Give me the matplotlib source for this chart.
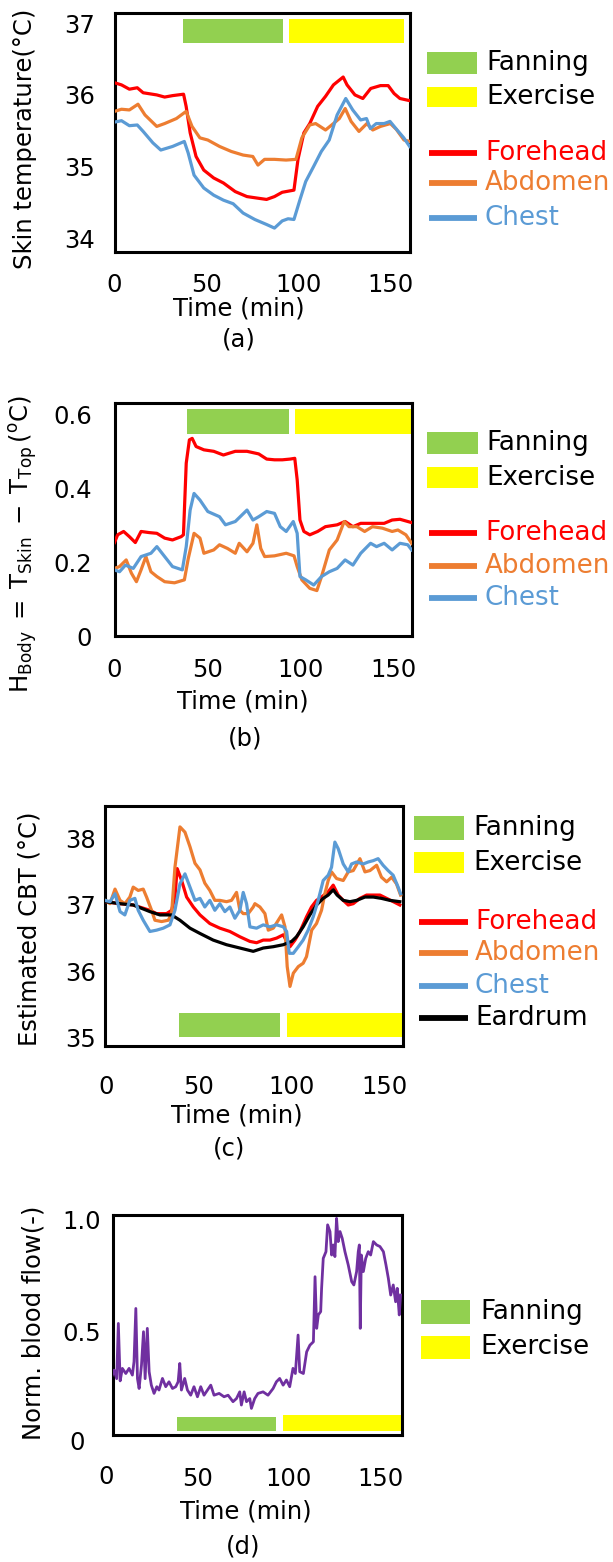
import matplotlib
matplotlib.use("Agg")
import matplotlib.pyplot as plt
from matplotlib.patches import Rectangle
from matplotlib.lines import Line2D
from matplotlib.transforms import blended_transform_factory

plt.rcParams['font.family'] = ['DejaVu Sans']

W, H = 613, 1562

RED = '#FF0000'
ORANGE = '#ED7D31'
BLUE = '#5B9BD5'
BLACK = '#000000'
GREEN = '#92D050'
YELLOW = '#FFFF00'
PURPLE = '#7030A0'

# ---------------- (a) skin temperature ----------------
a_fore_t = [0, 3.8, 8.1, 12.4, 15.6, 23.0, 27.3, 31.6, 37.6, 39.0, 41.2, 44.4, 48.6, 54.0, 59.3,
            65.7, 72.1, 77.4, 82.8, 87.1, 91.3, 97.7, 99.9, 103.1, 106.3, 110.6, 114.9, 119.2,
            124.5, 126.6, 130.9, 135.2, 139.5, 144.8, 149.0, 152.2, 155.4, 160.7]
a_fore = [36.17, 36.14, 36.08, 36.10, 36.03, 36.00, 35.97, 35.99, 36.01, 35.84, 35.47, 35.14,
          34.95, 34.84, 34.77, 34.65, 34.58, 34.56, 34.54, 34.58, 34.64, 34.67, 35.10, 35.47,
          35.60, 35.84, 35.98, 36.14, 36.25, 36.14, 36.00, 35.95, 36.09, 36.13, 36.13, 36.02,
          35.95, 35.92]
a_abd_t = [0, 3.8, 8.1, 12.8, 16.6, 23.0, 27.3, 33.7, 39.0, 42.2, 46.5, 50.8, 57.2, 63.6, 70.0,
           75.3, 78.1, 81.7, 87.1, 93.4, 98.8, 102.0, 106.3, 109.5, 114.9, 119.2, 122.4, 125.6,
           128.8, 133.1, 137.4, 140.6, 144.8, 150.2, 153.4, 157.6, 160.7]
a_abd = [35.77, 35.80, 35.79, 35.87, 35.72, 35.56, 35.60, 35.67, 35.77, 35.56, 35.40, 35.37,
         35.28, 35.21, 35.16, 35.14, 35.02, 35.10, 35.10, 35.09, 35.10, 35.40, 35.58, 35.60,
         35.51, 35.60, 35.67, 35.81, 35.63, 35.49, 35.60, 35.51, 35.56, 35.60, 35.52, 35.37, 35.35]
a_chest_t = [0, 3.8, 8.1, 12.4, 15.6, 20.9, 25.2, 31.6, 38.0, 40.1, 43.3, 48.6, 54.0, 59.3, 64.6,
             70.0, 76.4, 82.8, 87.1, 91.3, 94.5, 97.7, 100.9, 104.1, 108.4, 112.6, 116.9, 121.2,
             125.9, 129.7, 134.0, 137.2, 139.3, 142.5, 146.8, 150.0, 153.2, 157.5, 160.7]
a_chest = [35.62, 35.64, 35.57, 35.58, 35.49, 35.33, 35.23, 35.28, 35.35, 35.19, 34.88, 34.70,
           34.60, 34.53, 34.48, 34.35, 34.26, 34.19, 34.14, 34.24, 34.27, 34.26, 34.53, 34.79,
           35.00, 35.21, 35.37, 35.72, 35.95, 35.79, 35.65, 35.67, 35.53, 35.60, 35.60, 35.63,
           35.53, 35.40, 35.28]

# ---------------- (b) heat flux index ----------------
b_fore_t = [0, 1.7, 4.9, 8.0, 11.2, 14.3, 18.6, 22.8, 27.0, 31.2, 35.9, 37.1, 38.6, 40.3, 41.8,
            43.9, 48.1, 53.4, 58.6, 65.0, 71.3, 77.6, 81.9, 86.1, 90.3, 94.5, 97.0, 98.3, 99.8,
            101.9, 105.1, 109.3, 113.5, 119.8, 124.1, 128.3, 132.5, 138.8, 145.1, 149.4, 153.6, 159.9]
b_fore = [0.253, 0.274, 0.283, 0.269, 0.253, 0.283, 0.280, 0.278, 0.265, 0.260, 0.269, 0.274,
          0.468, 0.531, 0.535, 0.513, 0.504, 0.500, 0.490, 0.500, 0.500, 0.493, 0.479, 0.477,
          0.477, 0.479, 0.481, 0.423, 0.314, 0.283, 0.274, 0.283, 0.296, 0.301, 0.310, 0.296,
          0.305, 0.305, 0.305, 0.314, 0.316, 0.307]
b_abd_t = [0, 2.7, 6.3, 9.1, 11.8, 14.3, 16.9, 19.6, 22.8, 27.0, 32.3, 37.6, 39.7, 42.8, 46.0,
           48.1, 53.4, 56.5, 60.8, 65.0, 67.1, 71.3, 74.5, 76.6, 78.7, 80.8, 86.1, 92.4, 96.6,
           98.3, 100.8, 105.1, 108.9, 111.4, 115.6, 119.8, 123.6, 126.2, 130.4, 134.6, 138.8,
           144.1, 149.4, 152.5, 156.8, 159.9]
b_abd = [0.183, 0.188, 0.206, 0.170, 0.147, 0.179, 0.215, 0.174, 0.161, 0.147, 0.144, 0.152,
         0.210, 0.278, 0.265, 0.224, 0.233, 0.247, 0.237, 0.224, 0.251, 0.228, 0.251, 0.301,
         0.237, 0.215, 0.217, 0.224, 0.217, 0.188, 0.152, 0.129, 0.123, 0.161, 0.233, 0.260,
         0.310, 0.296, 0.296, 0.283, 0.296, 0.292, 0.283, 0.287, 0.274, 0.251]
b_chest_t = [0, 2.7, 5.9, 10.1, 14.3, 19.6, 22.8, 27.0, 31.2, 36.5, 38.6, 40.7, 42.8, 46.0, 50.2,
             56.5, 59.7, 65.0, 71.3, 74.5, 77.6, 81.9, 86.1, 89.2, 92.4, 96.2, 98.3, 99.8, 102.9,
             107.2, 111.4, 115.6, 119.8, 124.1, 128.3, 132.5, 137.8, 141.0, 145.1, 149.4, 153.6,
             157.8, 159.9]
b_chest = [0.179, 0.174, 0.192, 0.183, 0.215, 0.224, 0.242, 0.215, 0.188, 0.179, 0.242, 0.341,
           0.386, 0.368, 0.337, 0.323, 0.301, 0.310, 0.341, 0.314, 0.323, 0.337, 0.332, 0.296,
           0.283, 0.310, 0.278, 0.161, 0.152, 0.138, 0.161, 0.174, 0.183, 0.206, 0.192, 0.224,
           0.251, 0.242, 0.251, 0.233, 0.251, 0.247, 0.233]

# ---------------- (c) estimated CBT ----------------
c_fore_t = [-0.4, 7.7, 14.8, 23.8, 27.4, 32.8, 35.5, 37.3, 38.5, 40.9, 43.6, 47.2, 50.8, 56.1,
            61.5, 66.9, 72.3, 77.7, 81.3, 84.9, 88.5, 92.1, 95.7, 97.5, 99.3, 102.0, 104.7,
            108.2, 110.9, 113.6, 116.3, 119.9, 122.6, 125.3, 128.0, 130.7, 133.4, 137.0, 140.6,
            144.2, 147.8, 151.4, 155.0, 158.5]
c_fore = [37.05, 37.02, 37.00, 36.92, 36.87, 36.87, 36.92, 37.12, 37.55, 37.37, 37.12, 36.97,
          36.85, 36.72, 36.65, 36.60, 36.52, 36.45, 36.43, 36.47, 36.47, 36.50, 36.55, 36.45,
          36.37, 36.47, 36.60, 36.82, 36.97, 37.07, 37.12, 37.20, 37.30, 37.15, 37.07, 37.00,
          37.02, 37.10, 37.15, 37.15, 37.15, 37.10, 37.05, 37.00]
c_abd_t = [-0.4, 2.3, 5.0, 7.7, 10.3, 13.0, 14.8, 17.5, 20.2, 22.0, 24.7, 26.5, 30.1, 33.7, 35.5,
           37.3, 40.0, 42.7, 45.4, 48.1, 50.8, 53.4, 56.1, 58.8, 61.5, 65.1, 67.8, 70.5, 72.3,
           74.1, 76.8, 79.5, 80.4, 83.1, 85.8, 87.6, 90.3, 93.0, 94.8, 96.6, 97.8, 99.3, 101.1,
           103.8, 106.4, 108.2, 111.0, 113.6, 116.3, 118.1, 119.9, 121.7, 124.4, 128.0, 130.7,
           133.4, 137.0, 139.7, 142.4, 146.0, 148.6, 151.4, 154.1, 156.7, 158.9]
c_abd = [37.07, 37.02, 37.24, 37.07, 37.02, 37.12, 37.27, 37.22, 37.24, 37.12, 36.92, 36.77,
         36.75, 36.77, 36.87, 37.57, 38.18, 38.10, 37.88, 37.63, 37.53, 37.33, 37.22, 37.07,
         37.07, 37.05, 37.07, 37.19, 36.92, 36.87, 36.87, 36.97, 37.02, 36.97, 36.87, 36.62,
         36.65, 36.77, 36.85, 36.67, 36.07, 35.77, 35.97, 36.07, 36.12, 36.22, 36.62, 36.72,
         36.92, 37.17, 37.37, 37.50, 37.40, 37.37, 37.50, 37.52, 37.70, 37.50, 37.52, 37.60,
         37.42, 37.35, 37.42, 37.32, 37.15]
c_chest_t = [-0.4, 2.3, 5.0, 7.7, 10.3, 13.0, 15.7, 17.5, 20.2, 23.8, 27.4, 31.0, 34.6, 37.3,
             40.0, 42.7, 45.4, 48.1, 50.8, 53.4, 56.1, 58.8, 61.5, 64.2, 66.9, 69.6, 72.3, 74.1,
             75.9, 77.7, 81.3, 84.9, 88.5, 92.1, 95.7, 97.5, 98.9, 101.1, 103.8, 106.4, 109.1,
             111.8, 114.5, 117.2, 119.9, 121.7, 123.5, 125.3, 128.0, 130.7, 132.5, 135.2, 138.8,
             141.5, 144.2, 146.8, 149.5, 152.2, 154.9, 157.6, 158.9]
c_chest = [37.07, 37.05, 37.17, 36.90, 36.85, 37.07, 37.10, 36.92, 36.77, 36.60, 36.62, 36.65,
           36.70, 36.92, 37.32, 37.47, 37.27, 37.07, 37.10, 36.97, 37.07, 36.92, 37.02, 36.90,
           36.97, 36.80, 36.92, 37.19, 37.02, 36.67, 36.65, 36.70, 36.67, 36.70, 36.67, 36.60,
           36.27, 36.27, 36.37, 36.47, 36.62, 36.82, 37.07, 37.37, 37.45, 37.57, 37.95, 37.85,
           37.62, 37.50, 37.62, 37.65, 37.62, 37.65, 37.67, 37.70, 37.60, 37.52, 37.45, 37.27, 37.17]
c_ear_t = [-0.4, 7.7, 14.8, 23.8, 29.2, 35.5, 40.0, 45.4, 50.8, 57.9, 65.1, 72.3, 79.5, 84.9,
           90.3, 95.7, 98.3, 100.2, 102.8, 106.4, 110.0, 113.6, 117.2, 119.9, 122.6, 124.7,
           128.0, 131.6, 135.2, 139.7, 144.2, 148.6, 153.1, 158.5]
c_ear = [37.05, 37.02, 37.00, 36.90, 36.85, 36.85, 36.77, 36.65, 36.57, 36.47, 36.40, 36.35,
         36.30, 36.35, 36.37, 36.40, 36.43, 36.45, 36.52, 36.67, 36.85, 37.00, 37.10, 37.15,
         37.23, 37.15, 37.07, 37.05, 37.07, 37.12, 37.12, 37.10, 37.07, 37.05]

# ---------------- (d) normalised blood flow ----------------
d_t = [3.1, 4.1, 5.5, 6.4, 7.4, 8.6, 10.5, 12.3, 14.1, 15.0, 16.0, 16.9, 17.8, 19.1, 20.2, 21.1,
       22.3, 23.3, 24.5, 26.0, 27.5, 28.7, 30.6, 32.4, 34.2, 36.1, 37.9, 39.2, 40.1, 41.0, 42.8,
       44.3, 46.1, 47.9, 49.8, 51.6, 53.4, 55.3, 57.1, 58.9, 61.7, 64.4, 66.6, 69.3, 71.2, 73.0,
       73.9, 75.4, 76.7, 78.5, 79.4, 81.2, 83.0, 85.8, 88.5, 91.3, 93.1, 94.9, 96.8, 98.6, 100.4,
       102.2, 103.5, 105.0, 105.9, 107.9, 109.7, 111.5, 113.4, 114.3, 115.2, 116.1, 117.4, 117.9,
       118.8, 120.3, 121.2, 122.5, 123.4, 124.3, 125.2, 126.1, 127.0, 128.0, 129.2, 130.7, 132.5,
       134.4, 135.6, 137.1, 138.0, 138.6, 139.1, 139.7, 140.8, 142.1, 143.5, 144.8, 146.3, 148.1,
       149.9, 151.8, 153.2, 154.5, 155.8, 157.2, 158.5, 159.4, 160.5, 161.2]
d_flow = [0.306, 0.328, 0.290, 0.537, 0.280, 0.336, 0.313, 0.336, 0.306, 0.366, 0.604, 0.290,
          0.246, 0.351, 0.500, 0.290, 0.515, 0.321, 0.261, 0.224, 0.254, 0.239, 0.291, 0.254,
          0.276, 0.246, 0.254, 0.276, 0.358, 0.239, 0.291, 0.239, 0.216, 0.254, 0.209, 0.254,
          0.216, 0.239, 0.261, 0.216, 0.224, 0.209, 0.216, 0.187, 0.201, 0.231, 0.172, 0.231,
          0.187, 0.201, 0.157, 0.201, 0.224, 0.231, 0.216, 0.246, 0.276, 0.291, 0.261, 0.284,
          0.254, 0.336, 0.313, 0.485, 0.321, 0.313, 0.410, 0.440, 0.455, 0.746, 0.515, 0.575,
          0.590, 0.694, 0.828, 0.858, 0.978, 0.948, 0.843, 0.888, 0.836, 1.007, 0.903, 0.948,
          0.918, 0.858, 0.799, 0.724, 0.709, 0.769, 0.858, 0.888, 0.515, 0.843, 0.769, 0.828,
          0.858, 0.843, 0.903, 0.888, 0.881, 0.858, 0.799, 0.739, 0.664, 0.709, 0.634, 0.694,
          0.575, 0.664]

# phase periods (min) as drawn in each panel
a_fan, a_ex = (37.5, 91.7), (95.2, 157.5)
b_fan, b_ex = (39.0, 93.9), (97.0, 160.3)
c_fan, c_ex = (39.5, 94.0), (97.6, 159.5)
d_fan, d_ex = (38.5, 93.1), (96.8, 161.3)

TICK_FS = 17.5
LEG_FS = 18.8

fig = plt.figure(figsize=(W / 100, H / 100), dpi=100)


def fx(x):
    return x / W


def fy(y):
    return 1 - y / H


def make_axes(left, top, right, bottom):
    ax = fig.add_axes([fx(left), fy(bottom), (right - left) / W, (bottom - top) / H])
    for s in ax.spines.values():
        s.set_linewidth(2.2)
        s.set_color('black')
    ax.tick_params(length=0, labelsize=TICK_FS)
    return ax


def phase_bars(ax, fan, ex, y0, y1, ex_top=None):
    tr = blended_transform_factory(ax.transData, ax.transAxes)
    ax.add_patch(Rectangle((fan[0], y0), fan[1] - fan[0], y1 - y0, transform=tr,
                           facecolor=GREEN, edgecolor='none', zorder=1))
    top = y1 if ex_top is None else ex_top
    ax.add_patch(Rectangle((ex[0], y0), ex[1] - ex[0], top - y0, transform=tr,
                           facecolor=YELLOW, edgecolor='none', zorder=1))


def legend_patch(x0, x1, y0, y1, color, label, tx):
    fig.add_artist(Rectangle((fx(x0), fy(y1)), (x1 - x0) / W, (y1 - y0) / H,
                             transform=fig.transFigure, facecolor=color, edgecolor='none'))
    fig.text(fx(tx), fy((y0 + y1) / 2), label, fontsize=LEG_FS, va='center', ha='left')


def legend_line(x0, x1, y, color, label, tx):
    fig.add_artist(Line2D([fx(x0), fx(x1)], [fy(y), fy(y)], transform=fig.transFigure,
                          color=color, linewidth=4.2, solid_capstyle='butt'))
    fig.text(fx(tx), fy(y), label, fontsize=LEG_FS, va='center', ha='left', color=color)


def below_text(x, y, s):
    fig.text(fx(x), fy(y), s, fontsize=TICK_FS, ha='center', va='center')


# ---------------- panel (a) ----------------
ax = make_axes(114.5, 13.3, 410.4, 251.7)
ax.plot(a_fore_t, a_fore, color=RED, lw=2.3, zorder=3)
ax.plot(a_abd_t, a_abd, color=ORANGE, lw=2.3, zorder=3)
ax.plot(a_chest_t, a_chest, color=BLUE, lw=2.3, zorder=3)
phase_bars(ax, a_fan, a_ex, 0.874, 0.976)
ax.set_xlim(0, 161.1)
ax.set_ylim(33.81, 37.14)
ax.set_xticks([0, 50, 100, 150])
ax.set_yticks([34, 35, 36, 37])
ax.tick_params(axis='x', pad=15.5)
ax.tick_params(axis='y', pad=14)
fig.text(fx(25.5), fy(139.2), 'Skin temperature(°C)', fontsize=TICK_FS, rotation=90,
         ha='center', va='center')
below_text(239, 308.3, 'Time (min)')
below_text(239, 340, '(a)')
legend_patch(427, 477, 51.7, 74, GREEN, 'Fanning', 486)
legend_patch(427, 477, 87.3, 107.3, YELLOW, 'Exercise', 486)
legend_line(429, 477.5, 152.7, RED, 'Forehead', 485)
legend_line(429, 477.5, 183.3, ORANGE, 'Abdomen', 485)
legend_line(429, 477.5, 218.3, BLUE, 'Chest', 485)

# ---------------- panel (b) ----------------
ax = make_axes(114.5, 403.3, 412.4, 636)
ax.plot(b_fore_t, b_fore, color=RED, lw=2.3, zorder=3)
ax.plot(b_abd_t, b_abd, color=ORANGE, lw=2.3, zorder=3)
ax.plot(b_chest_t, b_chest, color=BLUE, lw=2.3, zorder=3)
phase_bars(ax, b_fan, b_ex, 0.867, 0.975)
ax.set_xlim(0, 160.3)
ax.set_ylim(0, 0.63)
ax.set_xticks([0, 50, 100, 150])
ax.set_yticks([0, 0.2, 0.4, 0.6])
ax.set_yticklabels(['0', '0.2', '0.4', '0.6'])
ax.tick_params(axis='x', pad=16)
ax.tick_params(axis='y', pad=16)
fig.text(fx(23.5), fy(544),
         r'$\mathregular{H_{Body}\;=\;T_{Skin}\;-\;T_{Top}\,(^{o}C)}$',
         fontsize=TICK_FS, rotation=90, ha='center', va='center')
below_text(243, 701.7, 'Time (min)')
below_text(245, 738.3, '(b)')
legend_patch(427, 477.5, 431.7, 454, GREEN, 'Fanning', 486)
legend_patch(427, 477.5, 467.3, 488.3, YELLOW, 'Exercise', 486)
legend_line(429, 477.5, 533.3, RED, 'Forehead', 485)
legend_line(429, 477.5, 565.7, ORANGE, 'Abdomen', 485)
legend_line(429, 477.5, 598.3, BLUE, 'Chest', 485)

# ---------------- panel (c) ----------------
ax = make_axes(105, 805.7, 402.6, 1046)
ax.plot(c_fore_t, c_fore, color=RED, lw=2.3, zorder=3)
ax.plot(c_abd_t, c_abd, color=ORANGE, lw=2.3, zorder=3)
ax.plot(c_chest_t, c_chest, color=BLUE, lw=2.3, zorder=4)
ax.plot(c_ear_t, c_ear, color=BLACK, lw=2.3, zorder=3)
phase_bars(ax, c_fan, c_ex, 0.036, 0.138)
ax.set_xlim(-0.4, 160)
ax.set_ylim(34.87, 38.5)
ax.set_xticks([0, 50, 100, 150])
ax.set_yticks([35, 36, 37, 38])
ax.tick_params(axis='x', pad=21)
ax.tick_params(axis='y', pad=6.5)
fig.text(fx(29.4), fy(928.3), 'Estimated CBT (°C)', fontsize=TICK_FS, rotation=90,
         ha='center', va='center')
below_text(237, 1115, 'Time (min)')
below_text(229.3, 1148.3, '(c)')
legend_patch(414.3, 463.7, 816, 840, GREEN, 'Fanning', 473)
legend_patch(414.3, 463.7, 852.3, 872.7, YELLOW, 'Exercise', 473)
legend_line(419.4, 468.4, 921.7, RED, 'Forehead', 475)
legend_line(419.4, 468.4, 953.3, ORANGE, 'Abdomen', 475)
legend_line(419.4, 468.4, 986, BLUE, 'Chest', 475)
legend_line(419.4, 468.4, 1018.3, BLACK, 'Eardrum', 475)

# ---------------- panel (d) ----------------
ax = make_axes(112.5, 1215, 402, 1435)
ax.plot(d_t, d_flow, color=PURPLE, lw=2.0, zorder=3)
phase_bars(ax, d_fan, d_ex, 0.02, 0.083, ex_top=0.093)
ax.set_xlim(3.2, 162)
ax.set_ylim(0.038, 1.022)
ax.set_xticks([50, 100, 150])
ax.set_yticks([0.5, 1.0])
ax.set_yticklabels(['0.5', '1.0'])
ax.tick_params(axis='x', pad=23)
ax.tick_params(axis='y', pad=8)
fig.text(fx(106.6), fy(1476.7), '0', fontsize=TICK_FS, ha='center', va='center')
fig.text(fx(77.5), fy(1443.4), '0', fontsize=TICK_FS, ha='center', va='center')
fig.text(fx(33.3), fy(1323.3), 'Norm. blood flow(-)', fontsize=TICK_FS, rotation=90,
         ha='center', va='center')
below_text(246, 1511.7, 'Time (min)')
below_text(243, 1546.7, '(d)')
legend_patch(421.4, 470.4, 1300, 1324, GREEN, 'Fanning', 480)
legend_patch(421.4, 470.4, 1336, 1359, YELLOW, 'Exercise', 480)

fig.savefig('out.png', dpi=100)
